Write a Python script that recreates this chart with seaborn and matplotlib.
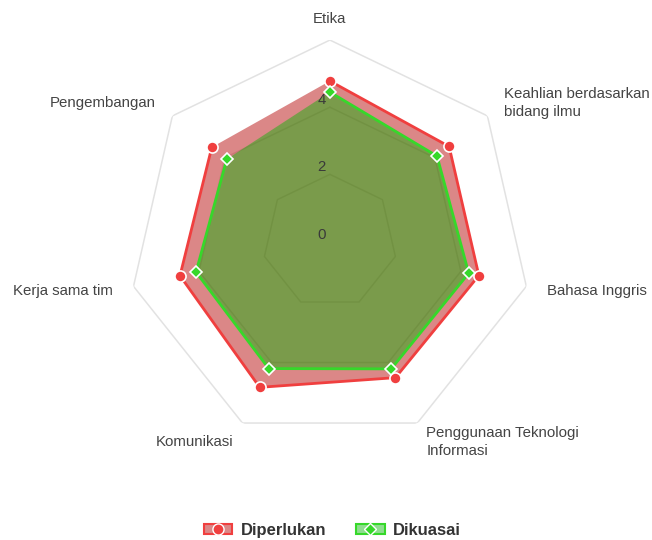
import numpy as np
import pandas as pd
import seaborn as sns
import matplotlib.pyplot as plt
from matplotlib.patches import Patch
from matplotlib.lines import Line2D
from matplotlib.legend_handler import HandlerTuple

# data
labels = ['Etika', 'Keahlian berdasarkan\nbidang ilmu', 'Bahasa Inggris',
          'Penggunaan Teknologi\nInformasi', 'Komunikasi', 'Kerja sama tim',
          'Pengembangan']
diperlukan = [4.78, 4.54, 4.55, 4.50, 4.82, 4.58, 4.50]
dikuasai = [4.45, 4.08, 4.24, 4.21, 4.20, 4.09, 3.93]
ticks = [0, 2, 4]
r_max = 6

sns.set_theme(style='white')
plt.rcParams['font.family'] = ['Liberation Sans', 'DejaVu Sans']

n = len(labels)
angles = np.linspace(0, 2 * np.pi, n, endpoint=False)
closed = np.append(angles, angles[0])

fig = plt.figure(figsize=(6.52, 5.4), dpi=100)
ax = fig.add_axes([0.197, 0.1796, 0.618, 0.7463], projection='polar')
ax.set_theta_zero_location('N')
ax.set_theta_direction(-1)
ax.set_ylim(0, r_max)
ax.grid(False)
ax.spines['polar'].set_visible(False)
ax.set_xticks([])
ax.set_yticks([])

# heptagon grid
for r in [2, 4, 6]:
    ax.plot(closed, [r] * (n + 1), color='#e2e2e2', lw=1.1, zorder=1)

red_line, red_fill = '#f03f3f', (0.70, 0.0, 0.0, 0.47)
green_line, green_fill = '#36d82a', (0.0, 0.71, 0.0, 0.44)

series = [('Diperlukan', diperlukan, red_line, red_fill, 'o', 8),
          ('Dikuasai', dikuasai, green_line, green_fill, 'D', 6)]

for name, vals, lc, fc, mk, ms in series:
    v = np.append(vals, vals[0])
    ax.fill(closed, v, color=fc, zorder=2, lw=0)
    df = pd.DataFrame({'theta': closed, 'r': v})
    sns.lineplot(data=df, x='theta', y='r', sort=False, ax=ax, color=lc,
                 lw=2, zorder=3, legend=False)
    ax.plot(angles, vals, ls='none', marker=mk, ms=ms, mfc=lc, mec='white',
            mew=1.2, zorder=4)

ax.set_xlabel('')
ax.set_ylabel('')

# tick labels
for t in ticks:
    ax.annotate(str(t), xy=(0, t), xytext=(-6, 5), textcoords='offset points',
                ha='center', va='center', fontsize=10.8, color='#3a3a3a',
                zorder=5)

# point labels
for a, lab in zip(angles, labels):
    deg = np.degrees(a)
    if deg < 1:
        ha = 'center'
    elif deg < 180:
        ha = 'left'
    else:
        ha = 'right'
    ax.text(a, 6.62, lab, ha=ha, va='center', fontsize=10.8, color='#444444',
            linespacing=1.4, clip_on=False)

handles = [(Patch(facecolor=red_fill, edgecolor=red_line, lw=1.5),
            Line2D([], [], ls='none', marker='o', ms=8, mfc=red_line, mec='white')),
           (Patch(facecolor=green_fill, edgecolor=green_line, lw=1.5),
            Line2D([], [], ls='none', marker='D', ms=6, mfc=green_line, mec='white'))]
leg = fig.legend(handles, ['Diperlukan', 'Dikuasai'],
                 handler_map={tuple: HandlerTuple(ndivide=1, pad=0)},
                 loc='center', bbox_to_anchor=(0.51, 0.018), ncol=2,
                 frameon=False, handlelength=1.7, handleheight=0.6,
                 columnspacing=1.8, handletextpad=0.5,
                 prop={'weight': 'bold', 'size': 12})
for txt in leg.get_texts():
    txt.set_color('#333333')

fig.savefig('out.png', dpi=100)
